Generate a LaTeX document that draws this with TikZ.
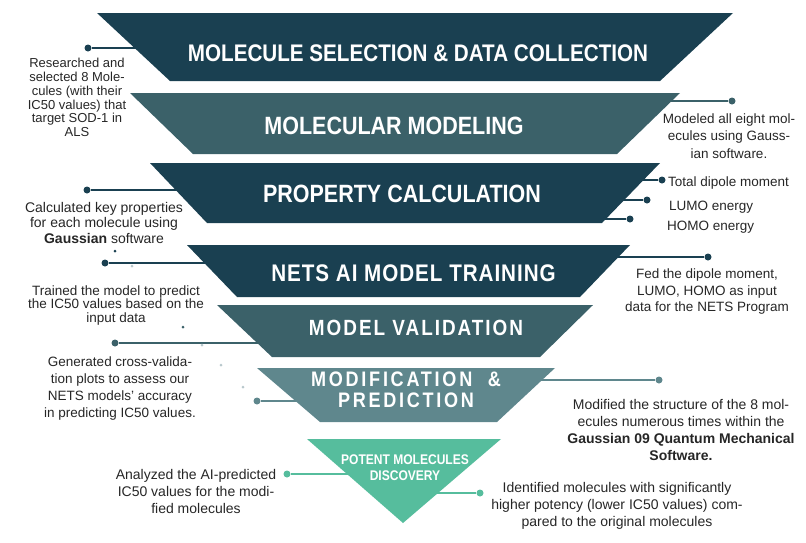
\documentclass[tikz,border=0pt]{standalone}
\usepackage{fontspec}
\setmainfont{Liberation Sans}
\newfontfamily\headfont[FakeStretch=0.86]{Liberation Sans}

\definecolor{bandDark}{HTML}{1A4051}
\definecolor{bandMid}{HTML}{3B6169}
\definecolor{bandLight}{HTML}{5F878D}
\definecolor{bandMint}{HTML}{56BD9D}
\definecolor{inkGray}{HTML}{262626}
\definecolor{speckGray}{HTML}{B8C8CC}

\tikzset{
  title/.style 2 args={text=white,inner sep=0pt,align=center,
    font=\headfont\bfseries\fontsize{#1}{#1}\selectfont\addfontfeature{LetterSpace=#2}},
  note/.style={text=inkGray,inner sep=0pt,align=center},
  dot/.style={circle,fill=#1,inner sep=0pt,minimum size=7pt},
  link/.style={draw=#1,line width=1.8pt},
  speck/.style={circle,fill=#1,inner sep=0pt,minimum size=3pt}
}

\begin{document}
\begin{tikzpicture}[x=1pt,y=-1pt]
  \useasboundingbox (0,0) rectangle (806,542);

  % dots and their lead lines (drawn under the bands)
  \node[dot=bandDark] (dA) at (88,48) {};
  \coordinate (eA) at (150,48);
  \node[dot=bandMid] (dB) at (732,101) {};
  \coordinate (eB) at (660,101);
  \node[dot=bandDark] (dC) at (87,190) {};
  \coordinate (eC) at (190,190);
  \node[dot=bandDark] (dC1) at (662,180) {};
  \coordinate (eC1) at (630,180);
  \node[dot=bandDark] (dC2) at (647,200) {};
  \coordinate (eC2) at (610,200);
  \node[dot=bandDark] (dC3) at (630,219) {};
  \coordinate (eC3) at (592,219);
  \node[dot=bandDark] (dD) at (105,263) {};
  \coordinate (eD) at (220,263);
  \node[dot=bandDark] (dD1) at (708,257) {};
  \coordinate (eD1) at (605,257);
  \node[dot=bandMid] (dE) at (115,343) {};
  \coordinate (eE) at (275,343);
  \node[dot=bandLight] (dF) at (257,401) {};
  \coordinate (eF) at (315,401);
  \node[dot=bandLight] (dF1) at (659,380) {};
  \coordinate (eF1) at (525,380);
  \node[dot=bandMint] (dG) at (287,474) {};
  \coordinate (eG) at (365,474);
  \node[dot=bandMint] (dG1) at (480,493) {};
  \coordinate (eG1) at (420,493);

  \draw[link=bandDark] (dA) -- (eA) (dC) -- (eC) (dD) -- (eD)
    (dC1) -- (eC1) (dC2) -- (eC2) (dC3) -- (eC3) (dD1) -- (eD1);
  \draw[link=bandMid] (dB) -- (eB) (dE) -- (eE);
  \draw[link=bandLight] (dF) -- (eF) (dF1) -- (eF1);
  \draw[link=bandMint] (dG) -- (eG) (dG1) -- (eG1);

  \node[speck=bandDark] (s1) at (115,251) {};
  \node[speck=speckGray] (s2) at (132,266) {};
  \node[speck=bandMid] (s3) at (183,327) {};
  \node[speck=speckGray] (s4) at (202,345) {};
  \node[speck=speckGray] (s5) at (221,365) {};
  \node[speck=speckGray] (s6) at (243,387) {};

  % funnel bands
  \fill[bandDark] (97,13) -- (733,13) -- (660,81) -- (170,81) -- cycle;
  \fill[bandMid] (130,93) -- (680,93) -- (617,154) -- (193,154) -- cycle;
  \fill[bandDark] (150,163) -- (660,163) -- (602,223) -- (207,223) -- cycle;
  \fill[bandDark] (187,245) -- (630,245) -- (580,297) -- (237,297) -- cycle;
  \fill[bandMid] (217,305) -- (593,305) -- (540,357) -- (272,357) -- cycle;
  \fill[bandLight] (257,368) -- (555,368) -- (497,422) -- (320,422) -- cycle;
  \fill[bandMint] (307,439) -- (501,439) -- (403,523) -- cycle;

  % band titles
  \node[title={24}{0}] (t1) at (418,53) {MOLECULE SELECTION \& DATA COLLECTION};
  \node[title={25}{0}] (t2) at (394,125.5) {MOLECULAR MODELING};
  \node[title={25}{0}] (t3) at (402,194) {PROPERTY CALCULATION};
  \node[title={24}{4}] (t4) at (413.5,273.5) {NETS AI MODEL TRAINING};
  \node[title={22}{9}] (t5) at (416,327.5) {MODEL VALIDATION};
  \node[title={21}{13}] (t6) at (406,390) {MODIFICATION\ \ \&\\PREDICTION};
  \node[title={14}{0}] (t7) at (405,467.5) {POTENT MOLECULES\\[2pt]DISCOVERY};

  % side notes
  \node[note,font=\fontsize{13}{13.8}\selectfont] (nA) at (77,97.5)
    {Researched and\\selected 8 Mole-\\cules (with their\\IC50 values) that\\target SOD-1 in\\ALS};
  \node[note,font=\fontsize{13.5}{17.5}\selectfont] (nB) at (729,136)
    {Modeled all eight mol-\\ecules using Gauss-\\ian software.};
  \node[note,font=\fontsize{14}{15.5}\selectfont] (nC) at (104,222.5)
    {Calculated key properties\\for each molecule using\\\textbf{Gaussian} software};
  \node[note,anchor=west,font=\fontsize{13.5}{15}\selectfont] (nC1) at (668,183) {Total dipole moment};
  \node[note,anchor=west,font=\fontsize{13.5}{15}\selectfont] (nC2) at (669,207) {LUMO energy};
  \node[note,anchor=west,font=\fontsize{13.5}{15}\selectfont] (nC3) at (667,227) {HOMO energy};
  \node[note,font=\fontsize{13.5}{16.5}\selectfont] (nD1) at (707,292)
    {Fed the dipole moment,\\LUMO, HOMO as input\\data for the NETS Program};
  \node[note,font=\fontsize{13.5}{13.5}\selectfont] (nD) at (116,305.5)
    {Trained the model to predict\\the IC50 values based on the\\input data};
  \node[note,font=\fontsize{13.5}{17}\selectfont] (nE) at (120,388)
    {Generated cross-valida-\\tion plots to assess our\\NETS models’ accuracy\\in predicting IC50 values.};
  \node[note,font=\fontsize{14}{17}\selectfont] (nF1) at (681,430)
    {Modified the structure of the 8 mol-\\ecules numerous times within the\\\textbf{Gaussian 09 Quantum Mechanical}\\\textbf{Software.}};
  \node[note,font=\fontsize{14}{17}\selectfont] (nG) at (196,491)
    {Analyzed the AI-predicted\\IC50 values for the modi-\\fied molecules};
  \node[note,font=\fontsize{14}{17}\selectfont] (nG1) at (617,506)
    {Identified molecules with significantly\\higher potency (lower IC50 values) com-\\pared to the original molecules};
\end{tikzpicture}
\end{document}
